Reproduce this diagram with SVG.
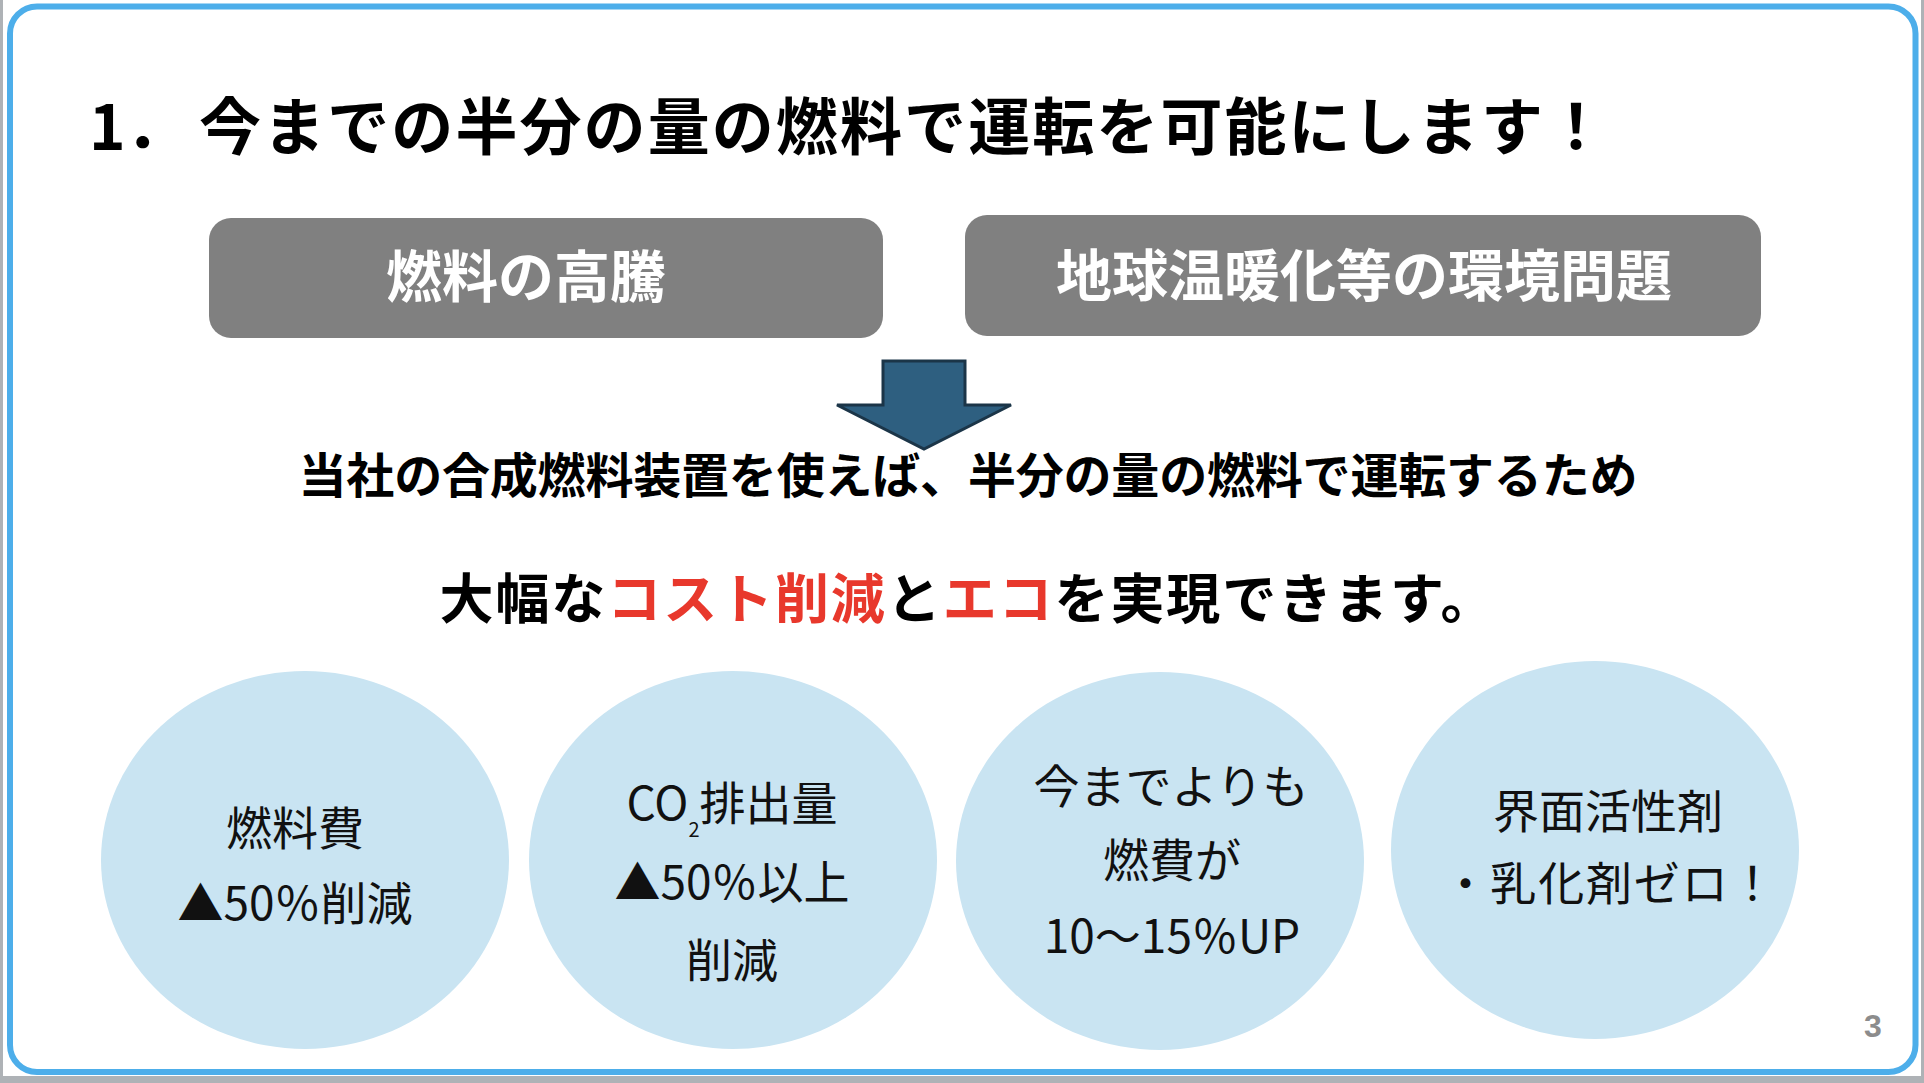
<svg xmlns="http://www.w3.org/2000/svg" width="1924" height="1083" viewBox="0 0 1924 1083">
<style>
.jp{font-family:"Noto Sans CJK JP","Noto Sans CJK SC",sans-serif}
.b{font-weight:700}
.title{font-size:62px;fill:#000}
.box{fill:#808080}
.boxt{font-size:56px;fill:#fff;text-anchor:middle}
.sub{font-size:48px;fill:#000;text-anchor:middle}
.big{font-size:54px;fill:#000;text-anchor:middle}
.red{fill:#e8382c}
.ell{fill:#c9e4f2}
.et{font-size:46px;fill:#111;text-anchor:middle;font-weight:400}
</style>
<rect x="0" y="0" width="1924" height="1083" fill="#ffffff"/>
<rect x="0" y="0" width="3" height="1083" fill="#aeb2b6"/>
<rect x="1921" y="0" width="3" height="1083" fill="#aeb2b6"/>
<rect x="0" y="1076" width="1924" height="7" fill="#aeb2b6"/>
<rect x="10" y="6.5" width="1905.5" height="1065.5" rx="27" ry="27" fill="#ffffff" stroke="#4daeea" stroke-width="6"/>

<g id="title">
<text class="jp b title" x="89" y="150">1．</text>
<text class="jp b title" x="199" y="150" textLength="1408">今までの半分の量の燃料で運転を可能にします！</text>
</g>

<g id="box-fuel">
<rect class="box" x="209" y="218" width="674" height="120" rx="22" ry="22"/>
<text class="jp b boxt" x="526" y="297">燃料の高騰</text>
</g>

<g id="box-env">
<rect class="box" x="965" y="215" width="796" height="121" rx="22" ry="22"/>
<text class="jp b boxt" x="1364" y="296">地球温暖化等の環境問題</text>
</g>

<g id="connectors">
<polygon points="883,361 965,361 965,405 1011,405 924,449 837,405 883,405" fill="#2e5f80" stroke="#1b3548" stroke-width="3" stroke-linejoin="miter"/>
</g>

<g id="statement">
<text class="jp b sub" x="968" y="493" textLength="1339">当社の合成燃料装置を使えば、半分の量の燃料で運転するため</text>
<text class="jp b big" x="967" y="619" textLength="1055">大幅な<tspan class="red">コスト削減</tspan>と<tspan class="red">エコ</tspan>を実現できます。</text>
</g>

<g id="circle-fuelcost">
<ellipse class="ell" cx="305" cy="860" rx="204" ry="189"/>
<text class="jp et" x="295" y="845">燃料費</text>
<text class="jp et" x="295" y="920">▲50％削減</text>
</g>

<g id="circle-co2">
<ellipse class="ell" cx="733" cy="860" rx="204" ry="189"/>
<text class="jp et" x="732" y="820">CO<tspan font-size="20" dy="17">2</tspan><tspan dy="-17">排出量</tspan></text>
<text class="jp et" x="732" y="899">▲50％以上</text>
<text class="jp et" x="732" y="977">削減</text>
</g>

<g id="circle-efficiency">
<ellipse class="ell" cx="1160" cy="861" rx="204" ry="189"/>
<text class="jp et" x="1171" y="803">今までよりも</text>
<text class="jp et" x="1172" y="877">燃費が</text>
<text class="jp et" x="1172" y="953">10〜15％UP</text>
</g>

<g id="circle-zero">
<ellipse class="ell" cx="1595" cy="850" rx="204" ry="189"/>
<text class="jp et" x="1608" y="828">界面活性剤</text>
<text class="jp et" x="1609" y="900" textLength="333">・乳化剤ゼロ！</text>
</g>

<g id="page-number">
<text x="1873" y="1037" font-family="Liberation Sans, sans-serif" font-weight="700" font-size="32" fill="#8c8c8c" text-anchor="middle">3</text>
</g>
</svg>
